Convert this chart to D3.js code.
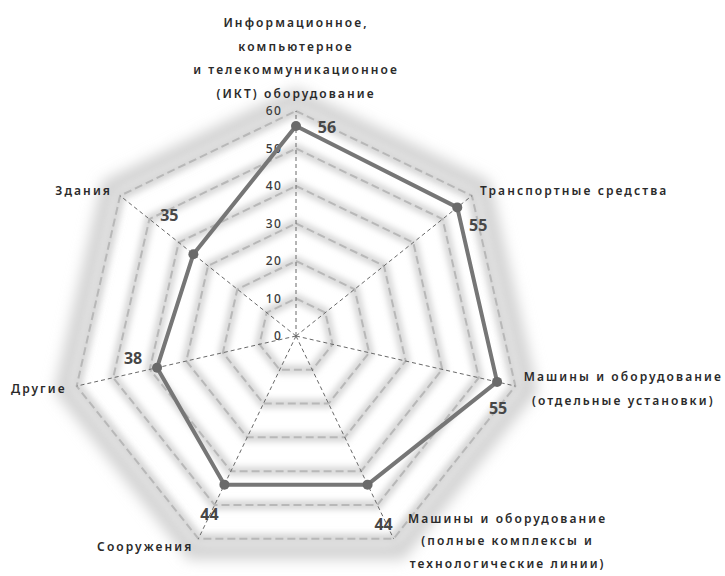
<!DOCTYPE html>
<html>
<head>
<meta charset="utf-8">
<script src="https://cdn.jsdelivr.net/npm/d3@7/dist/d3.min.js"></script>
<style>
  html, body { margin: 0; padding: 0; background: #fff; }
  svg { display: block; }
  .cat { font-family: "Noto Sans", sans-serif; font-size: 12px; font-weight: 600; fill: #2a2a2a; letter-spacing: 2.1px; }
  .tick { font-family: "Noto Sans", sans-serif; font-size: 12px; font-weight: 500; fill: #3a3a3a; letter-spacing: 1.2px; }
  .val { font-family: "Noto Sans", sans-serif; font-size: 16px; font-weight: 700; fill: #474747; }
</style>
</head>
<body>
<svg id="chart" width="725" height="576"></svg>
<script>
// Categories (clockwise from the top) and their shares
const categories = [
  "Информационное,\nкомпьютерное\nи телекоммуникационное\n(ИКТ) оборудование",
  "Транспортные средства",
  "Машины и оборудование\n(отдельные установки)",
  "Машины и оборудование\n(полные комплексы и\nтехнологические линии)",
  "Сооружения",
  "Другие",
  "Здания"
];
const values = [56, 55, 55, 44, 44, 38, 35];
const tickValues = [0, 10, 20, 30, 40, 50, 60];

// Layout: label offsets from the outer axis end / from each data point
const catLayout = [
  { dx: 0,   dy: -84, anchor: "middle", lh: 23.5 },
  { dx: 8,   dy: -1,  anchor: "start",  lh: 23.5 },
  { dx: 108, dy: -5,  anchor: "middle", lh: 23.5 },
  { dx: 114, dy: -16, anchor: "middle", lh: 22.5 },
  { dx: -5,  dy: 12,  anchor: "end",    lh: 23.5 },
  { dx: -10, dy: 7,   anchor: "end",    lh: 23.5 },
  { dx: -8,  dy: -1,  anchor: "end",    lh: 23.5 }
];
const valOffsets = [[31, 1], [21, 18], [1, 26], [16, 39], [-15, 29], [-24, -10], [-24, -39]];

const svg = d3.select("#chart");
const cx = 296, cy = 336, R = 225;
const n = categories.length;

const r = d3.scaleLinear().domain([0, 60]).range([0, R]);
const angle = d3.scaleLinear().domain([0, n]).range([0, 2 * Math.PI]);
const pt = (i, v) => [cx + r(v) * Math.sin(angle(i)), cy - r(v) * Math.cos(angle(i))];

const defs = svg.append("defs");
defs.append("filter").attr("id", "soft").attr("x", "-20%").attr("y", "-20%").attr("width", "140%").attr("height", "140%")
  .append("feGaussianBlur").attr("stdDeviation", 3.2);
defs.append("filter").attr("id", "softer").attr("x", "-30%").attr("y", "-30%").attr("width", "160%").attr("height", "160%")
  .append("feGaussianBlur").attr("stdDeviation", 7);

const ringPath = v => d3.line()(d3.range(n).map(i => pt(i, v))) + "Z";

// Outer soft shadow round the web
const g = svg.append("g");
g.append("path").attr("d", ringPath(63.5))
  .attr("fill", "none").attr("stroke", "#d2d2d2").attr("stroke-width", 18)
  .attr("filter", "url(#softer)");

// Soft ridge along every grid ring
tickValues.slice(1).forEach(t => {
  g.append("path").attr("d", ringPath(t))
    .attr("fill", "none").attr("stroke", "#d6d6d6").attr("stroke-width", 9)
    .attr("filter", "url(#soft)");
});

// Dashed grid rings
g.selectAll(".ring").data(tickValues.slice(1)).join("path")
  .attr("d", d => ringPath(d))
  .attr("fill", "none").attr("stroke", "#b8b8b8").attr("stroke-width", 2)
  .attr("stroke-dasharray", "8,4");

// Spokes
g.selectAll(".spoke").data(d3.range(n)).join("line")
  .attr("x1", cx).attr("y1", cy)
  .attr("x2", i => pt(i, 60)[0]).attr("y2", i => pt(i, 60)[1])
  .attr("stroke", "#686868").attr("stroke-width", 1)
  .attr("stroke-dasharray", "4,3");

// Radial tick labels
g.selectAll(".tick").data(tickValues).join("text")
  .attr("class", "tick")
  .attr("x", cx - 14).attr("y", d => cy - r(d) + 4)
  .attr("text-anchor", "end")
  .text(d => d);

// Series
const series = d3.line().curve(d3.curveLinearClosed);
g.append("path").attr("d", series(values.map((v, i) => pt(i, v))))
  .attr("fill", "none").attr("stroke", "#767676").attr("stroke-width", 4)
  .attr("stroke-linejoin", "round");
g.selectAll(".dot").data(values).join("circle")
  .attr("cx", (v, i) => pt(i, v)[0]).attr("cy", (v, i) => pt(i, v)[1])
  .attr("r", 5).attr("fill", "#6a6a6a");

// Value labels
g.selectAll(".val").data(values).join("text")
  .attr("class", "val")
  .attr("x", (v, i) => pt(i, v)[0] + valOffsets[i][0])
  .attr("y", (v, i) => pt(i, v)[1] + valOffsets[i][1] + 6)
  .attr("text-anchor", "middle")
  .text(v => v);

// Category labels
categories.forEach((c, i) => {
  const [x0, y0] = pt(i, 60);
  const L = catLayout[i];
  const t = g.append("text").attr("class", "cat")
    .attr("text-anchor", L.anchor)
    .attr("x", x0 + L.dx).attr("y", y0 + L.dy);
  c.split("\n").forEach((s, k) => {
    t.append("tspan").attr("x", x0 + L.dx).attr("dy", k === 0 ? 0 : L.lh).text(s);
  });
});
</script>
</body>
</html>
